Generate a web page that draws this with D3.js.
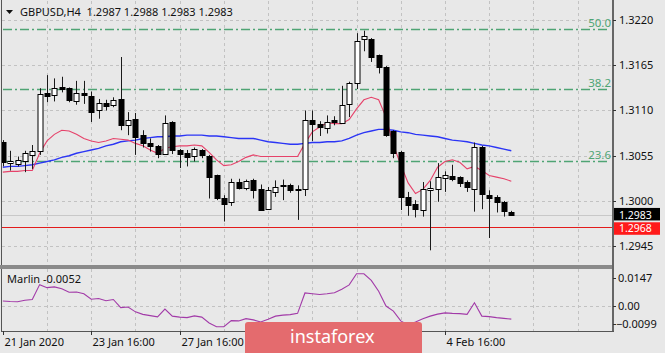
<!DOCTYPE html>
<html>
<head>
<meta charset="utf-8">
<script src="https://cdn.jsdelivr.net/npm/d3@7"></script>
<style>
  body { margin: 0; background: #e8e8e8; }
  svg text { font-family: "Noto Sans", sans-serif; }
</style>
</head>
<body>
<div class="chart"></div>
<script>
// GBPUSD H4 candles (bar 0 = 21 Jan 16:00)
const opens = [
  1.3072, 1.3045, 1.3045, 1.3048, 1.3056, 1.3061, 1.3131, 1.3128, 1.3138, 1.3137,
  1.3121, 1.3131, 1.3128, 1.3110, 1.3119, 1.3117, 1.3124, 1.3093, 1.3100, 1.3080,
  1.3071, 1.3067, 1.3057, 1.3096, 1.3062, 1.3058, 1.3054, 1.3062, 1.3055, 1.3031,
  1.3004, 1.2999, 1.3023, 1.3015, 1.3025, 1.3015, 1.2990, 1.3011, 1.3020, 1.3020,
  1.3015, 1.3015, 1.3098, 1.3094, 1.3089, 1.3098, 1.3095, 1.3118, 1.3144, 1.3196,
  1.3197, 1.3177, 1.3163, 1.3085, 1.3060, 1.3005, 1.2996, 1.2989, 1.3013, 1.3014,
  1.3028, 1.3030, 1.3029, 1.3023, 1.3015, 1.3065, 1.3007, 1.3005, 1.2999, 1.2987
]
const highs = [
  1.3074, 1.3061, 1.3054, 1.3061, 1.3068, 1.3137, 1.3153, 1.3149, 1.3151, 1.3138,
  1.3146, 1.3146, 1.3133, 1.3124, 1.3123, 1.3126, 1.3175, 1.3108, 1.3107, 1.3086,
  1.3076, 1.3068, 1.3104, 1.3097, 1.3063, 1.3062, 1.3065, 1.3063, 1.3056, 1.3032,
  1.3007, 1.3027, 1.3027, 1.3026, 1.3027, 1.3020, 1.3017, 1.3025, 1.3026, 1.3021,
  1.3019, 1.3110, 1.3110, 1.3097, 1.3104, 1.3103, 1.3140, 1.3145, 1.3204, 1.3207,
  1.3198, 1.3178, 1.3164, 1.3086, 1.3061, 1.3011, 1.3001, 1.3023, 1.3024, 1.3046,
  1.3036, 1.3044, 1.3030, 1.3025, 1.3071, 1.3067, 1.3013, 1.3007, 1.3000, 1.2988
]
const lows = [
  1.3042, 1.3037, 1.3042, 1.3035, 1.3039, 1.3056, 1.3120, 1.3121, 1.3132, 1.3120,
  1.3117, 1.3118, 1.3096, 1.3100, 1.3110, 1.3114, 1.3086, 1.3080, 1.3056, 1.3065,
  1.3060, 1.3052, 1.3056, 1.3057, 1.3040, 1.3042, 1.3048, 1.3052, 1.3003, 1.3001,
  1.2975, 1.2994, 1.3014, 1.3013, 1.3003, 1.2988, 1.2989, 1.3005, 1.3001, 1.3010,
  1.2977, 1.3006, 1.3073, 1.3079, 1.3082, 1.3092, 1.3094, 1.3102, 1.3136, 1.3182,
  1.3169, 1.3155, 1.3078, 1.3052, 1.2989, 1.2982, 1.2980, 1.2981, 1.2940, 1.2999,
  1.3011, 1.3024, 1.3017, 1.3011, 1.2987, 1.2990, 1.2955, 1.2986, 1.2981, 1.2983
]
const closes = [
  1.3048, 1.3048, 1.3050, 1.3058, 1.3061, 1.3130, 1.3127, 1.3137, 1.3135, 1.3122,
  1.3131, 1.3128, 1.3108, 1.3119, 1.3115, 1.3123, 1.3092, 1.3099, 1.3078, 1.3070,
  1.3067, 1.3057, 1.3095, 1.3062, 1.3057, 1.3053, 1.3063, 1.3056, 1.3029, 1.3003,
  1.2997, 1.3023, 1.3016, 1.3024, 1.3013, 1.2989, 1.3013, 1.3017, 1.3019, 1.3014,
  1.3015, 1.3099, 1.3093, 1.3090, 1.3096, 1.3096, 1.3117, 1.3144, 1.3195, 1.3200,
  1.3175, 1.3163, 1.3080, 1.3058, 1.3005, 1.2995, 1.2990, 1.3014, 1.3016, 1.3029,
  1.3032, 1.3026, 1.3022, 1.3017, 1.3066, 1.3008, 1.3003, 1.2999, 1.2988, 1.2983
]

// moving averages as drawn on the chart
const maFast = [
  1.3035, 1.3036, 1.3036, 1.3037, 1.3037, 1.3058, 1.3073, 1.3081, 1.3086, 1.3085,
  1.3081, 1.3076, 1.3073, 1.3071, 1.3073, 1.3076, 1.3075, 1.3074, 1.3070, 1.3067,
  1.3062, 1.3058, 1.3064, 1.3066, 1.3067, 1.3067, 1.3068, 1.3067, 1.3059, 1.3050,
  1.3043, 1.3044, 1.3048, 1.3053, 1.3056, 1.3054, 1.3054, 1.3054, 1.3054, 1.3054,
  1.3054, 1.3070, 1.3084, 1.3090, 1.3095, 1.3094, 1.3094, 1.3099, 1.3112, 1.3123,
  1.3126, 1.3123, 1.3102, 1.3068, 1.3044, 1.3022, 1.3009, 1.3014, 1.3025, 1.3041,
  1.3048, 1.3050, 1.3047, 1.3039, 1.3042, 1.3037, 1.3031, 1.3029, 1.3027, 1.3024
]
const maSlow = [
  1.3041, 1.3042, 1.3042, 1.3043, 1.3044, 1.3046, 1.3048, 1.3050, 1.3053, 1.3055,
  1.3058, 1.3060, 1.3062, 1.3064, 1.3067, 1.3069, 1.3072, 1.3073, 1.3074, 1.3076,
  1.3077, 1.3078, 1.3078, 1.3079, 1.3079, 1.3080, 1.3080, 1.3080, 1.3079, 1.3079,
  1.3078, 1.3077, 1.3076, 1.3076, 1.3076, 1.3074, 1.3072, 1.3071, 1.3070, 1.3069,
  1.3069, 1.3070, 1.3071, 1.3071, 1.3072, 1.3072, 1.3073, 1.3076, 1.3080, 1.3083,
  1.3085, 1.3087, 1.3087, 1.3086, 1.3084, 1.3083, 1.3081, 1.3080, 1.3079, 1.3078,
  1.3076, 1.3074, 1.3073, 1.3072, 1.3070, 1.3068, 1.3067, 1.3065, 1.3063, 1.3061
]

// Marlin oscillator (lower window)
const marlin = [
  0.0020, 0.0018, 0.0017, 0.0023, 0.0026, 0.0085, 0.0073, 0.0076, 0.0069, 0.0055,
  0.0056, 0.0049, 0.0027, 0.0030, 0.0021, 0.0026, -0.0006, -0.0004, -0.0023, -0.0033,
  -0.0038, -0.0043, -0.0012, -0.0040, -0.0044, -0.0046, -0.0039, -0.0044, -0.0067, -0.0082,
  -0.0082, -0.0058, -0.0059, -0.0050, -0.0055, -0.0063, -0.0052, -0.0040, -0.0036, -0.0034,
  -0.0029, 0.0052, 0.0049, 0.0046, 0.0049, 0.0053, 0.0067, 0.0084, 0.0128, 0.0128,
  0.0102, 0.0059, 0.0000, -0.0020, -0.0059, -0.0075, -0.0063, -0.0050, -0.0040, -0.0032,
  -0.0027, -0.0029, -0.0030, -0.0033, 0.0013, -0.0040, -0.0042, -0.0046, -0.0049, -0.0052
]

const priceTicks = [1.3220, 1.3165, 1.3110, 1.3055, 1.3000, 1.2945]
const marlinTicks = [0.0147, 0.00, -0.0099]
// the labels for 29 Jan and 31 Jan sit under the watermark, so only the visible ones
const timeLabels = ["21 Jan 2020", "23 Jan 16:00", "27 Jan 16:00", "4 Feb 16:00"]
const timeLabelBars = [0, 12, 24, 60]
const fibNames = ["50.0", "38.2", "23.6"]
const fibPrices = [1.3209, 1.3136, 1.3048]
const bidPrice = 1.2983
const alertPrice = 1.2968
const header = "GBPUSD,H4  1.2987 1.2988 1.2983 1.2983"
const marlinTitle = "Marlin -0.0052"

let W = 665, H = 353
let left = 2, right = 613
let mainTop = 1, mainBottom = 265
let subTop = 269, subBottom = 331

let svg = d3.select(".chart").append("svg")
    .attr("width", W).attr("height", H)
    .style("display", "block")

svg.append("rect").attr("width", W).attr("height", H).attr("fill", "#e8e8e8")

// Scales
let x = d3.scaleLinear().domain([0, 69]).range([2.8, 511.3])
let y = d3.scaleLinear().domain([1.2945, 1.3220]).range([246.2, 20])
let ySub = d3.scaleLinear().domain([-0.0099, 0.0147]).range([subBottom, subTop])

let px = i => Math.round(x(i)) + 0.5

svg.append("clipPath").attr("id", "clipMain")
    .append("rect").attr("x", left).attr("y", mainTop).attr("width", right - left).attr("height", mainBottom - mainTop)
svg.append("clipPath").attr("id", "clipSub")
    .append("rect").attr("x", left).attr("y", subTop).attr("width", right - left).attr("height", subBottom - subTop)

let main = svg.append("g").attr("clip-path", "url(#clipMain)")
let sub = svg.append("g").attr("clip-path", "url(#clipSub)")

// grid
let gridBars = d3.range(6, 80, 6)
main.selectAll(".vgrid").data(gridBars).enter().append("line")
    .attr("x1", d => px(d)).attr("x2", d => px(d))
    .attr("y1", mainTop).attr("y2", mainBottom)
    .attr("stroke", "#c2c2c2").attr("stroke-dasharray", "3,3")
main.selectAll(".hgrid").data(priceTicks).enter().append("line")
    .attr("x1", left).attr("x2", right)
    .attr("y1", d => Math.round(y(d)) + 0.5).attr("y2", d => Math.round(y(d)) + 0.5)
    .attr("stroke", "#c2c2c2").attr("stroke-dasharray", "3,3")
sub.selectAll(".vgrid").data(gridBars).enter().append("line")
    .attr("x1", d => px(d)).attr("x2", d => px(d))
    .attr("y1", subTop).attr("y2", subBottom)
    .attr("stroke", "#c2c2c2").attr("stroke-dasharray", "3,3")
sub.append("line")
    .attr("x1", left).attr("x2", right)
    .attr("y1", Math.round(ySub(0)) + 0.5).attr("y2", Math.round(ySub(0)) + 0.5)
    .attr("stroke", "#c2c2c2").attr("stroke-dasharray", "3,3")

// fibo levels
main.selectAll(".fib").data(fibPrices).enter().append("line")
    .attr("x1", 3).attr("x2", 607)
    .attr("y1", d => Math.round(y(d)) + 0.5).attr("y2", d => Math.round(y(d)) + 0.5)
    .attr("stroke", "#4fa474").attr("stroke-width", 1.3)
    .attr("stroke-dasharray", "9,3,2,3")
svg.selectAll(".fibLabel").data(fibPrices).enter().append("text")
    .attr("x", 611).attr("y", d => y(d) - 2)
    .attr("text-anchor", "end")
    .attr("font-size", 11.5).attr("fill", "#4fa474")
    .text((d, i) => fibNames[i])

// bid and alert lines
main.append("line").attr("x1", left).attr("x2", right)
    .attr("y1", Math.round(y(bidPrice)) + 0.5).attr("y2", Math.round(y(bidPrice)) + 0.5)
    .attr("stroke", "#c8c8c8")
main.append("line").attr("x1", left).attr("x2", right)
    .attr("y1", Math.round(y(alertPrice)) + 0.5).attr("y2", Math.round(y(alertPrice)) + 0.5)
    .attr("stroke", "#e21b1b").attr("stroke-width", 1.2)

// moving averages
let lineMain = d3.line().x((d, i) => x(i)).y(d => y(d))
main.append("path").datum(maSlow).attr("d", lineMain)
    .attr("fill", "none").attr("stroke", "#2b35f5").attr("stroke-width", 1.4)
main.append("path").datum(maFast).attr("d", lineMain)
    .attr("fill", "none").attr("stroke", "#e6426a").attr("stroke-width", 1.1)

// candles
let bars = d3.range(opens.length)
let candles = main.selectAll(".candle").data(bars).enter().append("g")
candles.append("line")
    .attr("x1", d => px(d)).attr("x2", d => px(d))
    .attr("y1", d => y(highs[d])).attr("y2", d => y(lows[d]))
    .attr("stroke", "#1a1a1a")
candles.append("rect")
    .attr("x", d => px(d) - 2.5)
    .attr("y", d => Math.round(y(Math.max(opens[d], closes[d]))) + 0.5)
    .attr("width", 5)
    .attr("height", d => Math.max(1, Math.round(Math.abs(y(opens[d]) - y(closes[d])))))
    .attr("fill", d => closes[d] > opens[d] ? "#ffffff" : "#000000")
    .attr("stroke", "#000000")

// Marlin
let lineSub = d3.line().x((d, i) => x(i)).y(d => ySub(d))
sub.append("path").datum(marlin).attr("d", lineSub)
    .attr("fill", "none").attr("stroke", "#a23aa8").attr("stroke-width", 1.1)

// frames
svg.append("line").attr("x1", 1.5).attr("x2", 1.5).attr("y1", 0).attr("y2", subBottom)
    .attr("stroke", "#555")
svg.append("rect").attr("x", 0).attr("y", mainBottom).attr("width", right + 1).attr("height", subTop - mainBottom)
    .attr("fill", "#8a8a8a")
svg.append("line").attr("x1", right).attr("x2", right).attr("y1", 0).attr("y2", subBottom + 0.5)
    .attr("stroke", "#666").attr("stroke-width", 2)
svg.append("line").attr("x1", 1).attr("x2", right + 1).attr("y1", subBottom + 0.5).attr("y2", subBottom + 0.5)
    .attr("stroke", "#555")

// price axis
let priceAxis = svg.append("g")
priceAxis.selectAll("line").data(priceTicks).enter().append("line")
    .attr("x1", right).attr("x2", right + 3)
    .attr("y1", d => Math.round(y(d)) + 0.5).attr("y2", d => Math.round(y(d)) + 0.5)
    .attr("stroke", "#333")
priceAxis.selectAll("text").data(priceTicks).enter().append("text")
    .attr("x", 619).attr("y", d => y(d) + 4)
    .attr("font-size", 11).attr("fill", "#111")
    .text(d => d3.format(".4f")(d))

// price boxes
let boxes = [{p: bidPrice, fill: "#000", dy: -7, ty: 4}, {p: alertPrice, fill: "#ff1a1a", dy: -5, ty: 5}]
svg.selectAll(".pbox").data(boxes).enter().append("rect")
    .attr("x", 614).attr("y", d => y(d.p) + d.dy)
    .attr("width", 46).attr("height", 12.5)
    .attr("fill", d => d.fill)
svg.selectAll(".ptext").data(boxes).enter().append("text")
    .attr("x", 619).attr("y", d => y(d.p) + d.ty)
    .attr("font-size", 10.5).attr("fill", "#fff")
    .text(d => d3.format(".4f")(d.p))

// marlin axis (MT4 keeps the extreme labels inside the window)
let subLabelY = (d, i) => i === 0 ? ySub(d) + 9 : (i === 2 ? ySub(d) - 7 : ySub(d))
svg.selectAll(".stick").data(marlinTicks).enter().append("line")
    .attr("x1", right).attr("x2", right + 3)
    .attr("y1", (d, i) => Math.round(subLabelY(d, i)) + 0.5)
    .attr("y2", (d, i) => Math.round(subLabelY(d, i)) + 0.5)
    .attr("stroke", "#333")
svg.selectAll(".slabel").data(marlinTicks).enter().append("text")
    .attr("x", d => d < 0 ? 616 : 618).attr("y", (d, i) => subLabelY(d, i) + 4)
    .attr("font-size", 11).attr("fill", "#111")
    .text(d => d === 0 ? "0.00" : d3.format(".4f")(d))

// time axis
svg.selectAll(".tt").data(timeLabelBars).enter().append("line")
    .attr("x1", d => px(d)).attr("x2", d => px(d))
    .attr("y1", subBottom).attr("y2", subBottom + 4)
    .attr("stroke", "#333")
svg.selectAll(".tl").data(timeLabelBars).enter().append("text")
    .attr("x", d => px(d) + 1).attr("y", 346)
    .attr("font-size", 11).attr("fill", "#111")
    .text((d, i) => timeLabels[i])

// titles
svg.append("path").attr("d", "M6,10 L13,10 L9.5,14 Z").attr("fill", "#111")
svg.append("text").attr("x", 20).attr("y", 16)
    .attr("font-size", 11).attr("fill", "#111")
    .style("white-space", "pre")
    .text(header)
svg.append("text").attr("x", 7).attr("y", 283)
    .attr("font-size", 11).attr("fill", "#111")
    .text(marlinTitle)

// watermark
let wm = svg.append("g")
wm.append("rect").attr("x", 245).attr("y", 322).attr("width", 177).attr("height", 33)
    .attr("rx", 3).attr("fill", "#e46b6e")
wm.append("text").attr("x", 290).attr("y", 343)
    .attr("font-family", "Open Sans").attr("font-size", 18).attr("fill", "#fff")
    .text("instaforex")
</script>
</body>
</html>
